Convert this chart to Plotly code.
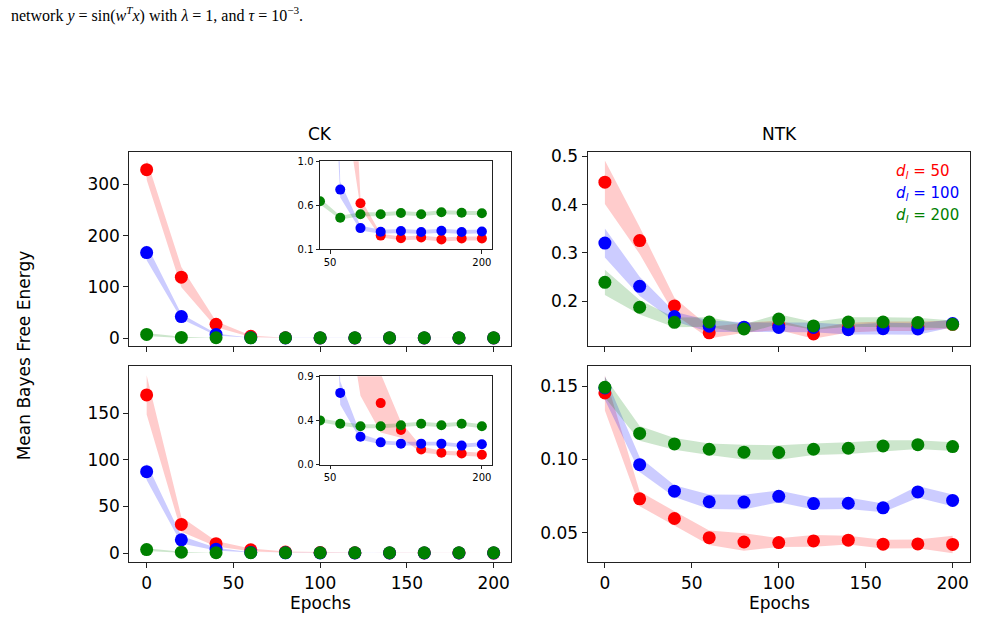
import plotly.graph_objects as go

# ---------------- data ----------------
epochs = [0, 20, 40, 60, 80, 100, 120, 140, 160, 180, 200]
series_names = ["d_l = 50", "d_l = 100", "d_l = 200"]

# CK (top row): mean Bayes free energy and band half-widths
ck_top_50 = [329, 119, 27, 3.4, 0.57, 0.238, 0.21, 0.218, 0.198, 0.208, 0.208]
ck_top_100 = [167, 42, 7, 0.71, 0.315, 0.278, 0.285, 0.275, 0.288, 0.275, 0.281]
ck_top_200 = [7, 1.3, 0.59, 0.422, 0.457, 0.457, 0.47, 0.457, 0.477, 0.473, 0.467]
ck_top_50_err = [20, 20, 6, 1.5, 0.05, 0.02, 0.02, 0.02, 0.02, 0.02, 0.02]
ck_top_100_err = [15, 5, 2, 0.08, 0.025, 0.02, 0.02, 0.02, 0.02, 0.02, 0.02]
ck_top_200_err = [3, 1, 0.03, 0.02, 0.02, 0.02, 0.02, 0.02, 0.02, 0.02, 0.02]

# CK (bottom row)
ck_bot_50 = [169.6, 30.8, 10.1, 3.5, 1.2, 0.626, 0.353, 0.153, 0.12, 0.113, 0.10]
ck_bot_100 = [87.3, 14.3, 4.2, 0.73, 0.283, 0.226, 0.213, 0.213, 0.213, 0.193, 0.206]
ck_bot_200 = [3.8, 1.0, 0.45, 0.416, 0.39, 0.39, 0.40, 0.416, 0.40, 0.416, 0.39]
ck_bot_50_err = [21, 8, 3, 1.5, 0.5, 0.3, 0.08, 0.03, 0.02, 0.02, 0.02]
ck_bot_100_err = [9, 4, 1.5, 0.12, 0.03, 0.02, 0.02, 0.02, 0.02, 0.02, 0.02]
ck_bot_200_err = [1.5, 0.5, 0.02, 0.02, 0.02, 0.02, 0.02, 0.02, 0.02, 0.02, 0.02]

# NTK (top row)
ntk_top_50 = [0.4464, 0.3255, 0.19, 0.1344, 0.1446, 0.15, 0.132, 0.145, 0.148, 0.148, 0.152]
ntk_top_100 = [0.3203, 0.2307, 0.1682, 0.148, 0.146, 0.1456, 0.1456, 0.1409, 0.143, 0.1422, 0.1537]
ntk_top_200 = [0.2389, 0.1873, 0.1561, 0.1568, 0.1422, 0.163, 0.1487, 0.1568, 0.1568, 0.1555, 0.152]
ntk_top_50_err = [0.045, 0.028, 0.017, 0.012, 0.01, 0.01, 0.01, 0.01, 0.01, 0.01, 0.008]
ntk_top_100_err = [0.03, 0.02, 0.01, 0.012, 0.01, 0.01, 0.01, 0.01, 0.012, 0.012, 0.008]
ntk_top_200_err = [0.026, 0.015, 0.01, 0.01, 0.01, 0.01, 0.008, 0.01, 0.01, 0.01, 0.008]

# NTK (bottom row)
ntk_bot_50 = [0.1453, 0.0731, 0.0597, 0.0466, 0.0437, 0.0433, 0.0444, 0.0449, 0.0422, 0.0424, 0.0420]
ntk_bot_100 = [0.1487, 0.0964, 0.0783, 0.0711, 0.0709, 0.0748, 0.0699, 0.0701, 0.067, 0.0778, 0.072]
ntk_bot_200 = [0.1491, 0.1177, 0.1105, 0.1069, 0.1049, 0.1047, 0.1069, 0.1076, 0.1091, 0.11, 0.1087]
ntk_bot_50_err = [0.012, 0.005, 0.005, 0.005, 0.006, 0.003, 0.004, 0.003, 0.003, 0.003, 0.006]
ntk_bot_100_err = [0.008, 0.005, 0.004, 0.005, 0.005, 0.004, 0.004, 0.004, 0.003, 0.004, 0.004]
ntk_bot_200_err = [0.007, 0.005, 0.004, 0.004, 0.005, 0.005, 0.004, 0.004, 0.004, 0.003, 0.003]

colors = ["#ff0000", "#0000ff", "#008000"]
fills = ["rgba(255,0,0,0.2)", "rgba(0,0,255,0.2)", "rgba(0,128,0,0.2)"]

W, H = 981, 640
FONT = "DejaVu Sans"


def px(x):
    return x / W


def py(y):
    return 1 - y / H


fig = go.Figure()


def add_panel(xa, ya, means, errs, msize):
    for m, e, c, f in zip(means, errs, colors, fills):
        upper = [a + b for a, b in zip(m, e)]
        lower = [a - b for a, b in zip(m, e)]
        fig.add_trace(go.Scatter(
            x=epochs + epochs[::-1], y=upper + lower[::-1],
            fill="toself", fillcolor=f, line=dict(width=0),
            mode="lines", hoverinfo="skip", showlegend=False,
            xaxis=xa, yaxis=ya))
    for m, e, c, f in zip(means, errs, colors, fills):
        fig.add_trace(go.Scatter(
            x=epochs, y=m, mode="markers",
            marker=dict(color=c, size=msize, line=dict(width=0)),
            showlegend=False, xaxis=xa, yaxis=ya))


add_panel("x", "y", [ck_top_50, ck_top_100, ck_top_200],
          [ck_top_50_err, ck_top_100_err, ck_top_200_err], 13)
add_panel("x2", "y2", [ntk_top_50, ntk_top_100, ntk_top_200],
          [ntk_top_50_err, ntk_top_100_err, ntk_top_200_err], 13)
add_panel("x3", "y3", [ck_bot_50, ck_bot_100, ck_bot_200],
          [ck_bot_50_err, ck_bot_100_err, ck_bot_200_err], 13)
add_panel("x4", "y4", [ntk_bot_50, ntk_bot_100, ntk_bot_200],
          [ntk_bot_50_err, ntk_bot_100_err, ntk_bot_200_err], 13)
add_panel("x5", "y5", [ck_top_50, ck_top_100, ck_top_200],
          [ck_top_50_err, ck_top_100_err, ck_top_200_err], 10)
add_panel("x6", "y6", [ck_bot_50, ck_bot_100, ck_bot_200],
          [ck_bot_50_err, ck_bot_100_err, ck_bot_200_err], 10)

axis_common = dict(showline=True, mirror=True, linecolor="#222", linewidth=1,
                   ticks="outside", ticklen=5, tickwidth=1, tickcolor="#222",
                   showgrid=False, zeroline=False,
                   tickfont=dict(family=FONT, size=17, color="black"))
inset_common = dict(showline=True, mirror=True, linecolor="#222", linewidth=1,
                    ticks="outside", ticklen=3.5, tickwidth=1, tickcolor="#222",
                    showgrid=False, zeroline=False,
                    tickfont=dict(family=FONT, size=10, color="black"))

L1, R1 = px(129.3), px(511)
L2, R2 = px(587.5), px(970)
TT, TB = py(148.5), py(347)
BT, BB = py(366.5), py(567)
main_x = dict(range=[-10, 210], tickvals=[0, 50, 100, 150, 200])

fig.update_layout(
    width=W, height=H, margin=dict(l=0, r=0, t=0, b=0),
    paper_bgcolor="white", plot_bgcolor="rgba(0,0,0,0)",
    xaxis=dict(domain=[L1, R1], anchor="y", showticklabels=False, **main_x, **axis_common),
    yaxis=dict(domain=[TB, TT], anchor="x", range=[-16.5, 364], tickvals=[0, 100, 200, 300], **axis_common),
    xaxis2=dict(domain=[L2, R2], anchor="y2", showticklabels=False, **main_x, **axis_common),
    yaxis2=dict(domain=[TB, TT], anchor="x2", range=[0.106, 0.5096], tickvals=[0.2, 0.3, 0.4, 0.5],
                tickformat=".1f", **axis_common),
    xaxis3=dict(domain=[L1, R1], anchor="y3", **main_x, **axis_common),
    yaxis3=dict(domain=[BB, BT], anchor="x3", range=[-9.9, 201], tickvals=[0, 50, 100, 150], **axis_common),
    xaxis4=dict(domain=[L2, R2], anchor="y4", **main_x, **axis_common),
    yaxis4=dict(domain=[BB, BT], anchor="x4", range=[0.0298, 0.1639], tickvals=[0.05, 0.10, 0.15],
                tickformat=".2f", **axis_common),
    xaxis5=dict(domain=[px(320), px(492)], anchor="y5", range=[40, 210], tickvals=[50, 200], **inset_common),
    yaxis5=dict(domain=[py(247.7), py(158.3)], anchor="x5", range=[0.1, 1.0],
                tickvals=[0.1, 0.55, 1.0], ticktext=["0.1", "0.6", "1.0"], **inset_common),
    xaxis6=dict(domain=[px(320), px(492)], anchor="y6", range=[40, 210], tickvals=[50, 200], **inset_common),
    yaxis6=dict(domain=[py(467.3), py(377.3)], anchor="x6", range=[0.0, 0.9],
                tickvals=[0.0, 0.45, 0.9], ticktext=["0.0", "0.4", "0.9"], **inset_common),
)

ann = []
txt = dict(family=FONT, size=17, color="black")
ann.append(dict(text="CK", x=px(320), y=py(143), xref="paper", yref="paper",
                xanchor="center", yanchor="bottom", showarrow=False, font=txt))
ann.append(dict(text="NTK", x=px(779), y=py(143), xref="paper", yref="paper",
                xanchor="center", yanchor="bottom", showarrow=False, font=txt))
for xc in (320, 779):
    ann.append(dict(text="Epochs", x=px(xc), y=py(608), xref="paper", yref="paper",
                    xanchor="center", yanchor="middle", showarrow=False, font=txt))
ann.append(dict(text="Mean Bayes Free Energy", x=px(24), y=py(356), xref="paper", yref="paper",
                xanchor="center", yanchor="middle", textangle=-90, showarrow=False, font=txt))
labels = ["50", "100", "200"]
for i, (lab, c) in enumerate(zip(labels, colors)):
    ann.append(dict(text="<i>d</i><sub><i>l</i></sub> = " + lab, x=px(894), y=py(169 + 22 * i),
                    xref="paper", yref="paper", xanchor="left", yanchor="middle",
                    showarrow=False, font=dict(family=FONT, size=15, color=c)))
ann.append(dict(text="network <i>y</i> = sin(<i>w</i><sup><i>T</i></sup><i>x</i>) with <i>λ</i> = 1, and <i>τ</i> = 10<sup>−3</sup>.",
                x=px(9), y=py(9), xref="paper", yref="paper", xanchor="left", yanchor="middle",
                showarrow=False, font=dict(family="Liberation Serif", size=16, color="black")))
fig.update_layout(annotations=ann)

fig.write_html("out.html")
